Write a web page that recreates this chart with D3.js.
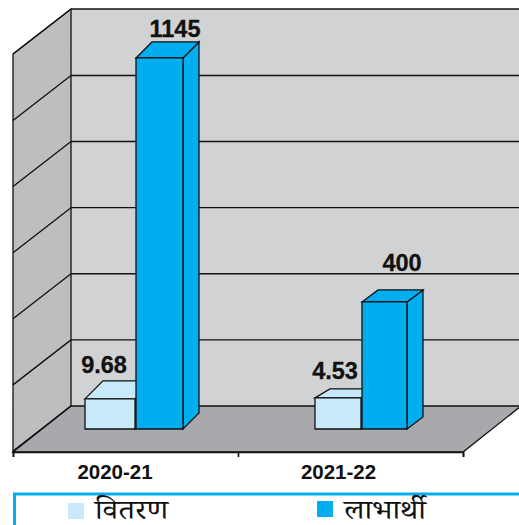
<!DOCTYPE html>
<html><head><meta charset="utf-8">
<style>html,body{margin:0;padding:0;background:#fff;overflow:hidden}svg{display:block}</style>
<script src="https://cdn.jsdelivr.net/npm/d3@7"></script></head>
<body><svg id="c" width="519" height="525"></svg>
<script>
const categories = ["2020-21", "2021-22"];
const seriesNames = ["वितरण", "लाभार्थी"];
const vitaranLabels = ["9.68", "4.53"];
const labharthiLabels = ["1145", "400"];
// heights the picture gives each bar on the hidden value axis
const vitaranDrawn = [93, 96];
const labharthiDrawn = [1145, 392];
const gridValues = [0, 204, 408, 612, 816, 1020, 1225];

const LIGHT = "#c7e9fa", BLUE = "#00aeef", INK = "#111";
const svg = d3.select("#c");
const baseY = 429, wallBase = 406, wallLeft = 71, sideLeft = 13, floorY = 452, right = 519;

const y = d3.scaleLinear().domain([0, 1225]).range([baseY, baseY - 397]);
const gridY = d3.scaleLinear().domain([0, 1225]).range([wallBase, 9]);
const x0 = d3.scaleBand().domain(categories).range([13, 463]);

const poly = (pts, fill) => svg.append("path")
  .attr("d", "M" + pts.map(p => p.join(",")).join("L") + "Z")
  .attr("fill", fill).attr("stroke", INK).attr("stroke-width", 1.3).attr("stroke-linejoin", "miter");

// back wall, side wall, floor
svg.append("rect").attr("x", wallLeft).attr("y", 9).attr("width", right - wallLeft + 2).attr("height", wallBase - 9).attr("fill", "#d1d2d4");
poly([[sideLeft, 54], [wallLeft, 9], [wallLeft, wallBase], [sideLeft, floorY]], "#bcbec0");
poly([[sideLeft, floorY], [wallLeft, wallBase], [right + 2, wallBase], [463, floorY]], "#a7a9ac");

gridValues.forEach(v => {
  const g = gridY(v);
  if (v > 0) svg.append("line").attr("x1", wallLeft).attr("x2", right + 2).attr("y1", g).attr("y2", g).attr("stroke", INK).attr("stroke-width", 1.4);
  svg.append("line").attr("x1", sideLeft).attr("x2", wallLeft).attr("y1", g + 45).attr("y2", g).attr("stroke", INK).attr("stroke-width", 1.3);
});

// axis line and ticks at band edges
const tickScale = d3.scalePoint().domain(["a", "b", "c"]).range([13, 463]);
svg.append("g").attr("transform", `translate(0,${floorY})`)
  .call(d3.axisBottom(tickScale).tickSize(5).tickFormat(""))
  .call(g => g.selectAll("line,path").attr("stroke", INK).attr("stroke-width", 1.6));

// per-bar drawing layout
const layout = [
  { left: 72, w1: 50, w2: 47, d1: [18, 18], d2: [16, 16], lab1: [104, 373], lab2: [175, 37], tick: 115 },
  { left: 77, w1: 46, w2: 45, d1: [15, 9], d2: [16, 12], lab1: [335, 379], lab2: [402, 271], tick: 338.5 }
];

function box(xl, w, top, dep, fill) {
  const [dx, dy] = dep;
  poly([[xl + w, top], [xl + w + dx, top - dy], [xl + w + dx, baseY - dy], [xl + w, baseY]], fill);
  poly([[xl, top], [xl + dx, top - dy], [xl + w + dx, top - dy], [xl + w, top]], fill);
  poly([[xl, top], [xl + w, top], [xl + w, baseY], [xl, baseY]], fill);
}
const label = (txt, pos) => svg.append("text").attr("x", pos[0]).attr("y", pos[1])
  .attr("text-anchor", "middle").attr("font-family", "Liberation Sans, Arial, sans-serif")
  .attr("font-weight", "bold").attr("font-size", 23.5).attr("fill", INK)
  .attr("stroke", INK).attr("stroke-width", 0.3).text(txt);

categories.forEach((c, i) => {
  const L = layout[i], xl = x0(c) + L.left;
  box(xl, L.w1, y(vitaranDrawn[i]), L.d1, LIGHT);
  box(xl + L.w1 + 1, L.w2, y(labharthiDrawn[i]), L.d2, BLUE);
  label(vitaranLabels[i], L.lab1);
  label(labharthiLabels[i], L.lab2);
  svg.append("text").attr("x", L.tick).attr("y", 479).attr("text-anchor", "middle")
    .attr("font-family", "Liberation Sans, Arial, sans-serif").attr("font-weight", "bold")
    .attr("font-size", 20.5).attr("fill", INK).text(c);
});

// legend
svg.append("path").attr("d", "M14.5,527V494H523").attr("fill", "none").attr("stroke", BLUE).attr("stroke-width", 3);
const legend = [
  { sx: 68, sy: 503, tx: 95, len: 73, col: LIGHT },
  { sx: 317, sy: 501, tx: 344, len: 82, col: BLUE }
];
seriesNames.forEach((n, i) => {
  const l = legend[i];
  svg.append("rect").attr("x", l.sx).attr("y", l.sy).attr("width", 16).attr("height", 16).attr("fill", l.col);
  svg.append("text").attr("x", l.tx).attr("y", 519)
    .attr("font-family", "Noto Serif Devanagari, Lohit Devanagari, Noto Sans Devanagari, FreeSerif, Noto Sans, serif")
    .attr("font-size", 27).attr("textLength", l.len).attr("lengthAdjust", "spacingAndGlyphs")
    .attr("fill", INK).text(n);
});
</script></body></html>
